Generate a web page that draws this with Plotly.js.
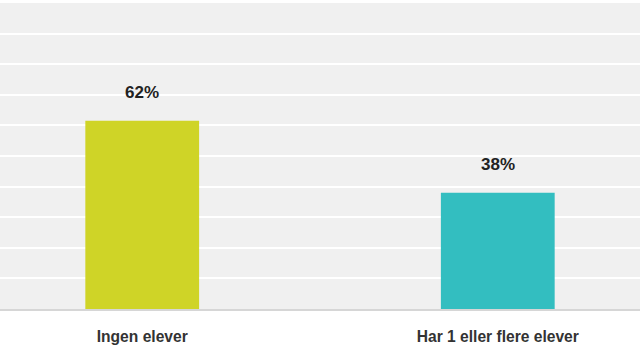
<!DOCTYPE html>
<html>
<head>
<meta charset="utf-8">
<script src="https://cdn.plot.ly/plotly-3.0.1.min.js"></script>
<style>html,body{margin:0;padding:0;background:#fff;}#chart{width:640px;height:356px;}</style>
</head>
<body>
<div id="chart"></div>
<script>
var categories = ["Ingen elever", "Har 1 eller flere elever"];
var values = [61.5, 38];
var valueLabels = ["62%", "38%"];
var colors = ["#cfd427", "#33bec0"];

var trace = {
  type: "bar",
  x: categories,
  y: values,
  width: 0.32,
  marker: {color: colors},
  hoverinfo: "none"
};

var annotations = categories.map(function(c, i) {
  return {
    x: c, y: values[i], xref: "x", yref: "y",
    text: "<b>" + valueLabels[i] + "</b>",
    showarrow: false, yshift: 28,
    font: {family: "Liberation Sans, Arial, sans-serif", size: 17, color: "#222"}
  };
});

var layout = {
  width: 640, height: 356,
  margin: {l: 0, r: 0, t: 3, b: 47},
  paper_bgcolor: "#ffffff",
  plot_bgcolor: "#f0f0f0",
  showlegend: false,
  xaxis: {
    range: [-0.4, 1.4],
    showgrid: false, zeroline: false,
    showline: true, linecolor: "#d6d6d6", linewidth: 2,
    ticks: "", ticklabelstandoff: 12,
    tickfont: {family: "Liberation Sans, Arial, sans-serif", size: 15.6, color: "#333", weight: "bold"}
  },
  yaxis: {
    range: [0, 100], dtick: 10,
    showgrid: true, gridcolor: "#ffffff", gridwidth: 2,
    zeroline: false, showticklabels: false, ticks: ""
  },
  annotations: annotations
};

Plotly.newPlot("chart", [trace], layout, {staticPlot: true, displayModeBar: false});
</script>
</body>
</html>
